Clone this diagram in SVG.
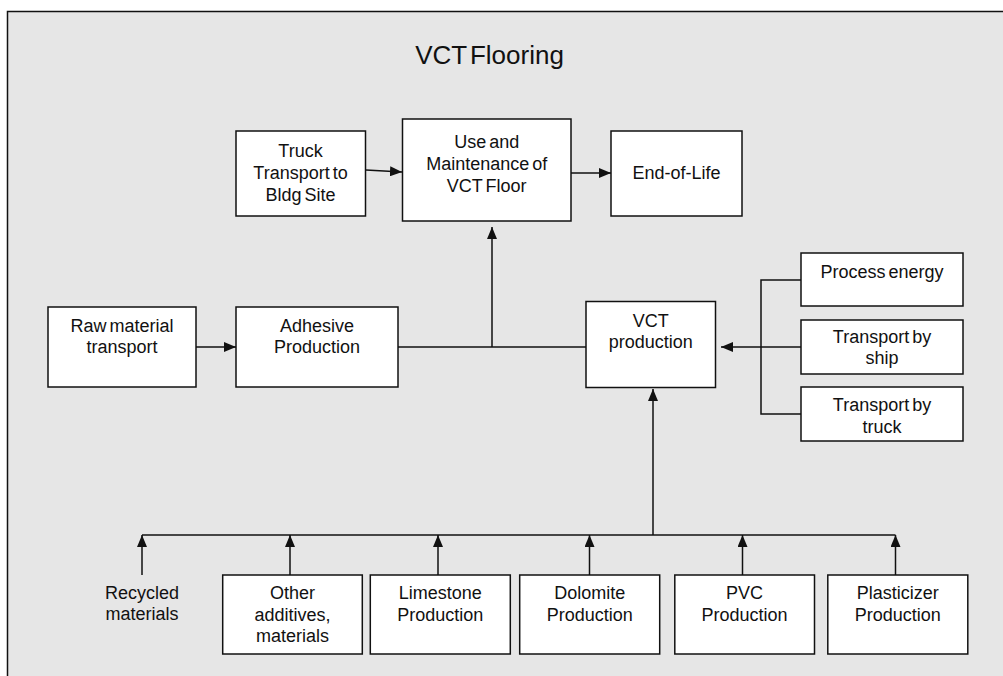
<svg xmlns="http://www.w3.org/2000/svg" width="1003" height="676" viewBox="0 0 1003 676">
<style>
.box{fill:#fff;stroke:#111;stroke-width:1.5}
.t{font-family:"Liberation Sans",Arial,sans-serif;font-size:18px;fill:#111;text-anchor:middle;word-spacing:-2px}
.c{fill:none;stroke:#111;stroke-width:1.5}
.title{font-family:"Liberation Sans",Arial,sans-serif;font-size:26px;fill:#111;text-anchor:middle;word-spacing:-4px}
</style>
<defs>
<marker id="ah" markerWidth="12" markerHeight="10" refX="12" refY="5" orient="auto" markerUnits="userSpaceOnUse">
<path d="M0,0 L12,5 L0,10 z" fill="#111"/>
</marker>
</defs>
<rect x="0" y="0" width="1003" height="676" fill="#fff"/>
<rect x="7.5" y="11.5" width="1010" height="680" fill="#e6e6e6" stroke="#111" stroke-width="1.5"/>
<text class="title" x="489.5" y="64">VCT Flooring</text>

<g id="connectors">
<line class="c" x1="366" y1="170" x2="402" y2="172" marker-end="url(#ah)"/>
<line class="c" x1="571" y1="173" x2="611" y2="173" marker-end="url(#ah)"/>
<line class="c" x1="196" y1="347" x2="236" y2="347" marker-end="url(#ah)"/>
<line class="c" x1="398" y1="347" x2="586" y2="347"/>
<line class="c" x1="492" y1="347" x2="492" y2="227" marker-end="url(#ah)"/>
<polyline class="c" points="801,280 761,280 761,414 801,414"/>
<line class="c" x1="801" y1="347" x2="721" y2="347" marker-end="url(#ah)"/>
<line class="c" x1="653" y1="535" x2="653" y2="389" marker-end="url(#ah)"/>
<line class="c" x1="142" y1="535" x2="895.5" y2="535"/>
<line class="c" x1="142" y1="575" x2="142" y2="535" marker-end="url(#ah)"/>
<line class="c" x1="290" y1="575" x2="290" y2="535" marker-end="url(#ah)"/>
<line class="c" x1="438" y1="575" x2="438" y2="535" marker-end="url(#ah)"/>
<line class="c" x1="589.5" y1="575" x2="589.5" y2="535" marker-end="url(#ah)"/>
<line class="c" x1="742.5" y1="575" x2="742.5" y2="535" marker-end="url(#ah)"/>
<line class="c" x1="895.5" y1="575" x2="895.5" y2="535" marker-end="url(#ah)"/>
</g>

<g id="truck-transport">
<rect class="box" x="236" y="131" width="129.5" height="85"/>
<text class="t" x="300.5" y="157">Truck</text>
<text class="t" x="300.5" y="179">Transport to</text>
<text class="t" x="300.5" y="201">Bldg Site</text>
</g>
<g id="use-maintenance">
<rect class="box" x="402.5" y="119" width="168.5" height="102"/>
<text class="t" x="486.7" y="148">Use and</text>
<text class="t" x="486.7" y="170">Maintenance of</text>
<text class="t" x="486.7" y="192">VCT Floor</text>
</g>
<g id="end-of-life">
<rect class="box" x="611" y="131" width="131" height="85"/>
<text class="t" x="676.5" y="179">End-of-Life</text>
</g>
<g id="raw-material">
<rect class="box" x="48" y="307" width="148" height="80"/>
<text class="t" x="122" y="332">Raw material</text>
<text class="t" x="122" y="353">transport</text>
</g>
<g id="adhesive">
<rect class="box" x="236" y="307" width="162" height="80"/>
<text class="t" x="317" y="332">Adhesive</text>
<text class="t" x="317" y="353">Production</text>
</g>
<g id="vct-production">
<rect class="box" x="586" y="301.5" width="129.5" height="86"/>
<text class="t" x="650.7" y="327">VCT</text>
<text class="t" x="650.7" y="348">production</text>
</g>
<g id="process-energy">
<rect class="box" x="801" y="253" width="162" height="53"/>
<text class="t" x="882" y="278">Process energy</text>
</g>
<g id="transport-ship">
<rect class="box" x="801" y="320" width="162" height="54"/>
<text class="t" x="882" y="343">Transport by</text>
<text class="t" x="882" y="364">ship</text>
</g>
<g id="transport-truck">
<rect class="box" x="801" y="387" width="162" height="54"/>
<text class="t" x="882" y="411">Transport by</text>
<text class="t" x="882" y="433">truck</text>
</g>
<g id="recycled">
<text class="t" x="142" y="599">Recycled</text>
<text class="t" x="142" y="620">materials</text>
</g>
<g id="other-additives">
<rect class="box" x="222.7" y="575" width="139.6" height="79"/>
<text class="t" x="292.5" y="599">Other</text>
<text class="t" x="292.5" y="621">additives,</text>
<text class="t" x="292.5" y="642">materials</text>
</g>
<g id="limestone">
<rect class="box" x="370.3" y="575" width="140" height="79"/>
<text class="t" x="440.3" y="599">Limestone</text>
<text class="t" x="440.3" y="621">Production</text>
</g>
<g id="dolomite">
<rect class="box" x="519.7" y="575" width="140" height="79"/>
<text class="t" x="589.7" y="599">Dolomite</text>
<text class="t" x="589.7" y="621">Production</text>
</g>
<g id="pvc">
<rect class="box" x="674.8" y="575" width="139.7" height="79"/>
<text class="t" x="744.6" y="599">PVC</text>
<text class="t" x="744.6" y="621">Production</text>
</g>
<g id="plasticizer">
<rect class="box" x="827.8" y="575" width="140" height="79"/>
<text class="t" x="897.8" y="599">Plasticizer</text>
<text class="t" x="897.8" y="621">Production</text>
</g>
</svg>
